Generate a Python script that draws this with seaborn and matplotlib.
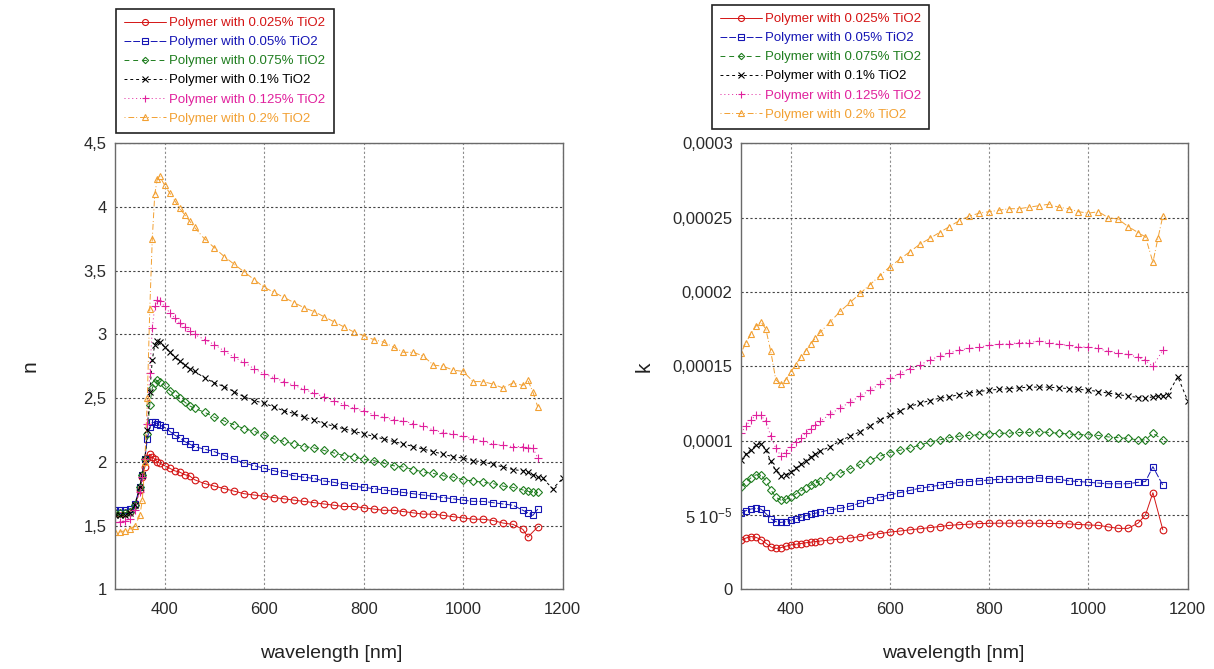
import numpy as np
import pandas as pd
import matplotlib
matplotlib.use("Agg")
import matplotlib.pyplot as plt
import seaborn as sns

sns.set_style("white")
plt.rcParams["font.family"] = ["Liberation Sans", "DejaVu Sans"]
plt.rcParams["mathtext.default"] = "regular"

nan = np.nan

# ---- series definitions ----
labels = [
    "Polymer with 0.025% TiO2",
    "Polymer with 0.05% TiO2",
    "Polymer with 0.075% TiO2",
    "Polymer with 0.1% TiO2",
    "Polymer with 0.125% TiO2",
    "Polymer with 0.2% TiO2",
]
colors = ["#d41414", "#1414b4", "#1f7d1f", "#000000", "#e0209c", "#f2a032"]
markers = ["o", "s", "D", "x", "+", "^"]
marker_sizes = [4.8, 4.6, 3.6, 4.8, 5.6, 4.8]
linestyles = ["-", (0, (7, 2)), (0, (5, 4)), (0, (3, 3)), (0, (1, 3)), (0, (1, 3, 6, 2))]

# ---- refractive index n ----
wl_n = [300, 310, 320, 330, 340, 350, 355, 360, 365, 370, 375, 380, 385, 390,
        400, 410, 420, 430, 440, 450,
        460, 480, 500, 520, 540, 560, 580, 600, 620, 640, 660, 680, 700, 720,
        740, 760, 780, 800, 820, 840, 860, 880, 900, 920, 940, 960, 980, 1000,
        1020, 1040, 1060, 1080, 1100,
        1120, 1130, 1140, 1150, 1160, 1180, 1200]

n_0025 = [1.60, 1.60, 1.60, 1.61, 1.66, 1.78, 1.88, 1.96, 2.03, 2.06, 2.04, 2.02, 2.00, 1.99,
          1.97, 1.95, 1.93, 1.92, 1.90, 1.89,
          1.86, 1.83, 1.81, 1.79, 1.77, 1.75, 1.74, 1.73, 1.72, 1.71, 1.70, 1.69, 1.68, 1.67,
          1.66, 1.65, 1.65, 1.64, 1.63, 1.62, 1.62, 1.61, 1.60, 1.59, 1.59, 1.58, 1.57, 1.56,
          1.55, 1.55, 1.54, 1.52, 1.51,
          1.47, 1.41, nan, 1.49, nan, nan, nan]
n_005 = [1.62, 1.62, 1.62, 1.63, 1.67, 1.80, 1.90, 2.02, 2.18, 2.27, 2.31, 2.31, 2.30, 2.29,
         2.27, 2.24, 2.21, 2.19, 2.16, 2.14,
         2.12, 2.10, 2.08, 2.05, 2.02, 1.99, 1.97, 1.95, 1.93, 1.91, 1.89, 1.88, 1.87, 1.85,
         1.84, 1.82, 1.81, 1.80, 1.79, 1.78, 1.77, 1.76, 1.75, 1.74, 1.73, 1.72, 1.71, 1.70,
         1.69, 1.69, 1.68, 1.67, 1.66,
         1.62, 1.60, 1.58, 1.63, nan, nan, nan]
n_0075 = [1.60, 1.60, 1.60, 1.61, 1.66, 1.80, 1.90, 2.02, 2.22, 2.45, 2.58, 2.62, 2.64, 2.63,
          2.60, 2.56, 2.53, 2.50, 2.47, 2.44,
          2.42, 2.39, 2.35, 2.32, 2.29, 2.26, 2.24, 2.21, 2.18, 2.16, 2.14, 2.12, 2.11, 2.09,
          2.07, 2.05, 2.04, 2.02, 2.01, 1.99, 1.97, 1.96, 1.94, 1.92, 1.91, 1.89, 1.88, 1.86,
          1.85, 1.84, 1.83, 1.81, 1.80,
          1.78, 1.77, 1.76, 1.76, nan, nan, nan]
n_01 = [1.58, 1.58, 1.58, 1.60, 1.66, 1.80, 1.90, 2.02, 2.25, 2.55, 2.80, 2.92, 2.95, 2.94,
        2.90, 2.86, 2.82, 2.79, 2.76, 2.73,
        2.71, 2.66, 2.62, 2.59, 2.55, 2.51, 2.48, 2.46, 2.43, 2.40, 2.38, 2.35, 2.33, 2.30,
        2.28, 2.26, 2.24, 2.22, 2.20, 2.18, 2.16, 2.14, 2.12, 2.10, 2.08, 2.06, 2.04, 2.03,
        2.01, 2.00, 1.98, 1.96, 1.94,
        1.93, 1.92, 1.90, 1.88, 1.87, 1.79, 1.87]
n_0125 = [1.53, 1.53, 1.54, 1.55, 1.62, 1.76, 1.88, 2.02, 2.30, 2.70, 3.05, 3.22, 3.27, 3.26,
          3.22, 3.17, 3.13, 3.09, 3.06, 3.03,
          3.00, 2.96, 2.92, 2.87, 2.82, 2.78, 2.73, 2.69, 2.66, 2.63, 2.60, 2.57, 2.54, 2.51,
          2.48, 2.45, 2.42, 2.40, 2.37, 2.35, 2.33, 2.32, 2.30, 2.28, 2.25, 2.23, 2.22, 2.20,
          2.18, 2.16, 2.14, 2.13, 2.12,
          2.12, 2.11, 2.11, 2.03, nan, nan, nan]
n_02 = [1.45, 1.45, 1.46, 1.47, 1.50, 1.58, 1.70, 2.00, 2.50, 3.20, 3.75, 4.10, 4.22, 4.24,
        4.17, 4.11, 4.05, 3.99, 3.94, 3.89,
        3.84, 3.75, 3.68, 3.61, 3.55, 3.49, 3.43, 3.37, 3.33, 3.29, 3.25, 3.21, 3.18, 3.14,
        3.10, 3.06, 3.02, 2.99, 2.96, 2.94, 2.90, 2.86, 2.86, 2.83, 2.76, 2.75, 2.72, 2.71,
        2.63, 2.63, 2.61, 2.58, 2.62,
        2.60, 2.64, 2.55, 2.43, nan, nan, nan]

# ---- extinction coefficient k (units of 1e-5) ----
wl_k = [300, 310, 320, 330, 340, 350, 360, 370, 380, 390, 400, 410, 420, 430, 440, 450, 460,
        480, 500, 520, 540, 560, 580, 600, 620, 640, 660, 680, 700, 720, 740, 760, 780,
        800, 820, 840, 860, 880, 900, 920, 940, 960, 980, 1000, 1020, 1040, 1060, 1080, 1100,
        1115, 1130, 1140, 1150, 1160, 1180, 1200]

k_0025 = [3.30, 3.45, 3.55, 3.50, 3.35, 3.10, 2.85, 2.75, 2.80, 2.90, 2.98, 3.03, 3.08, 3.13, 3.17, 3.21, 3.25,
          3.32, 3.38, 3.45, 3.55, 3.65, 3.75, 3.85, 3.92, 4.00, 4.07, 4.15, 4.22, 4.30, 4.35, 4.38, 4.42,
          4.44, 4.45, 4.45, 4.45, 4.45, 4.44, 4.43, 4.42, 4.40, 4.36, 4.33, 4.30, 4.20, 4.10, 4.10, 4.45,
          5.00, 6.50, nan, 4.00, nan, nan, nan]
k_005 = [5.10, 5.30, 5.40, 5.45, 5.40, 5.10, 4.75, 4.55, 4.50, 4.55, 4.65, 4.75, 4.85, 4.95, 5.05, 5.12, 5.20,
         5.35, 5.45, 5.60, 5.80, 6.00, 6.20, 6.35, 6.50, 6.65, 6.80, 6.90, 7.00, 7.10, 7.20, 7.25, 7.30,
         7.35, 7.40, 7.40, 7.45, 7.45, 7.50, 7.45, 7.40, 7.30, 7.25, 7.20, 7.15, 7.10, 7.10, 7.10, 7.20,
         7.25, 8.25, nan, 7.00, nan, nan, nan]
k_0075 = [6.90, 7.20, 7.50, 7.70, 7.70, 7.30, 6.70, 6.20, 6.00, 6.05, 6.20, 6.40, 6.60, 6.80, 7.00, 7.15, 7.30,
          7.60, 7.80, 8.10, 8.40, 8.70, 8.95, 9.20, 9.35, 9.50, 9.70, 9.90, 10.05, 10.20, 10.30, 10.35, 10.40,
          10.45, 10.50, 10.50, 10.55, 10.55, 10.60, 10.55, 10.50, 10.45, 10.40, 10.40, 10.35, 10.25, 10.20, 10.15, 10.05,
          10.05, 10.50, nan, 10.05, nan, nan, nan]
k_01 = [8.70, 9.10, 9.40, 9.70, 9.80, 9.40, 8.60, 8.00, 7.60, 7.70, 7.90, 8.15, 8.40, 8.65, 8.90, 9.10, 9.30,
        9.60, 10.00, 10.30, 10.60, 11.00, 11.40, 11.70, 12.00, 12.30, 12.50, 12.70, 12.85, 12.95, 13.10, 13.20, 13.30,
        13.40, 13.45, 13.50, 13.55, 13.60, 13.60, 13.60, 13.55, 13.50, 13.45, 13.40, 13.30, 13.20, 13.10, 13.00, 12.90,
        12.85, 12.95, 13.00, 13.00, 13.10, 14.30, 12.70]
k_0125 = [10.50, 11.00, 11.40, 11.70, 11.70, 11.30, 10.30, 9.50, 9.00, 9.20, 9.60, 9.90, 10.20, 10.50, 10.80, 11.05, 11.30,
          11.80, 12.20, 12.60, 13.00, 13.40, 13.80, 14.20, 14.50, 14.85, 15.10, 15.40, 15.70, 15.90, 16.10, 16.20, 16.30,
          16.40, 16.50, 16.50, 16.60, 16.60, 16.70, 16.60, 16.50, 16.40, 16.30, 16.30, 16.20, 16.00, 15.90, 15.80, 15.60,
          15.40, 15.00, nan, 16.10, nan, nan, nan]
k_02 = [15.90, 16.60, 17.20, 17.70, 18.00, 17.50, 16.00, 14.10, 13.80, 14.10, 14.60, 15.10, 15.60, 16.05, 16.50, 16.90, 17.30,
        18.00, 18.70, 19.30, 19.90, 20.50, 21.10, 21.70, 22.20, 22.70, 23.20, 23.60, 24.00, 24.40, 24.80, 25.10, 25.30,
        25.40, 25.50, 25.60, 25.60, 25.70, 25.80, 25.90, 25.70, 25.60, 25.40, 25.30, 25.40, 25.00, 24.90, 24.40, 24.00,
        23.70, 22.00, 23.60, 25.10, nan, nan, nan]
k_unit = 1e-5

# ---- axis ticks ----
x_ticks = [400, 600, 800, 1000, 1200]
n_ticks = [1, 1.5, 2, 2.5, 3, 3.5, 4, 4.5]
n_tick_labels = ["1", "1,5", "2", "2,5", "3", "3,5", "4", "4,5"]
k_ticks = [0, 5e-5, 1e-4, 1.5e-4, 2e-4, 2.5e-4, 3e-4]
k_tick_labels = ["0", "5 10$^{-5}$", "0,0001", "0,00015", "0,0002", "0,00025", "0,0003"]


def draw_series(ax, wl, series, scale=1.0):
    for vals, lab, c, m, ms, ls in zip(series, labels, colors, markers, marker_sizes, linestyles):
        df = pd.DataFrame({"wl": wl, "v": np.asarray(vals, dtype=float) * scale}).dropna()
        sns.lineplot(data=df, x="wl", y="v", ax=ax, color=c, marker=m, linestyle=ls,
                     linewidth=0.7, markersize=ms, markerfacecolor="none",
                     markeredgecolor=c, markeredgewidth=0.8, label=lab,
                     sort=False, estimator=None, legend=False)


def style_axes(ax, yticks, ylabels, ylim, ylab, ylab_x, xlab_x):
    ax.set_xlim(300, 1200)
    ax.set_ylim(*ylim)
    ax.set_xticks(x_ticks)
    ax.set_xticklabels([str(t) for t in x_ticks])
    ax.set_yticks(yticks)
    ax.set_yticklabels(ylabels)
    ax.tick_params(axis="both", labelsize=12, direction="in", length=3,
                   color="#555555", labelcolor="#2a2a2a")
    ax.tick_params(axis="x", pad=9)
    ax.tick_params(axis="y", pad=6)
    ax.xaxis.grid(True, linestyle=(0, (2, 2)), color="#8c8c8c", linewidth=0.8)
    ax.yaxis.grid(True, linestyle=(0, (2, 2)), color="#444444", linewidth=0.8)
    ax.set_axisbelow(True)
    for sp in ax.spines.values():
        sp.set_color("#6a6a6a")
        sp.set_linewidth(1.0)
    ax.set_xlabel("wavelength [nm]", fontsize=14, color="#222222")
    ax.set_ylabel(ylab, fontsize=15, color="#222222")
    ax.xaxis.set_label_coords(xlab_x, -0.125)
    ax.yaxis.set_label_coords(ylab_x, 0.5)


fig = plt.figure(figsize=(12.14, 6.69), dpi=100)
ax_n = fig.add_axes([0.0947, 0.1191, 0.3688, 0.6667])
ax_k = fig.add_axes([0.6104, 0.1191, 0.3679, 0.6667])

draw_series(ax_n, wl_n, [n_0025, n_005, n_0075, n_01, n_0125, n_02])
draw_series(ax_k, wl_k, [k_0025, k_005, k_0075, k_01, k_0125, k_02], k_unit)

style_axes(ax_n, n_ticks, n_tick_labels, (1, 4.5), "n", -0.168, 0.482)
style_axes(ax_k, k_ticks, k_tick_labels, (0, 3e-4), "k", -0.195, 0.475)

for ax, anchor in ((ax_n, (0.0956, 0.9865)), (ax_k, (0.5865, 0.9925))):
    handles = ax.get_lines()[:len(labels)]
    leg = ax.legend(handles, labels, loc="upper left", bbox_to_anchor=anchor,
                    bbox_transform=fig.transFigure, borderaxespad=0,
                    fontsize=9.5, frameon=True, fancybox=False, framealpha=1,
                    edgecolor="#222222", handlelength=3.2, handletextpad=0.25,
                    labelspacing=0.52, borderpad=0.6, markerscale=0.9)
    leg.get_frame().set_linewidth(1.2)
    for txt, c in zip(leg.get_texts(), colors):
        txt.set_color(c)

fig.savefig("out.png", dpi=100)
